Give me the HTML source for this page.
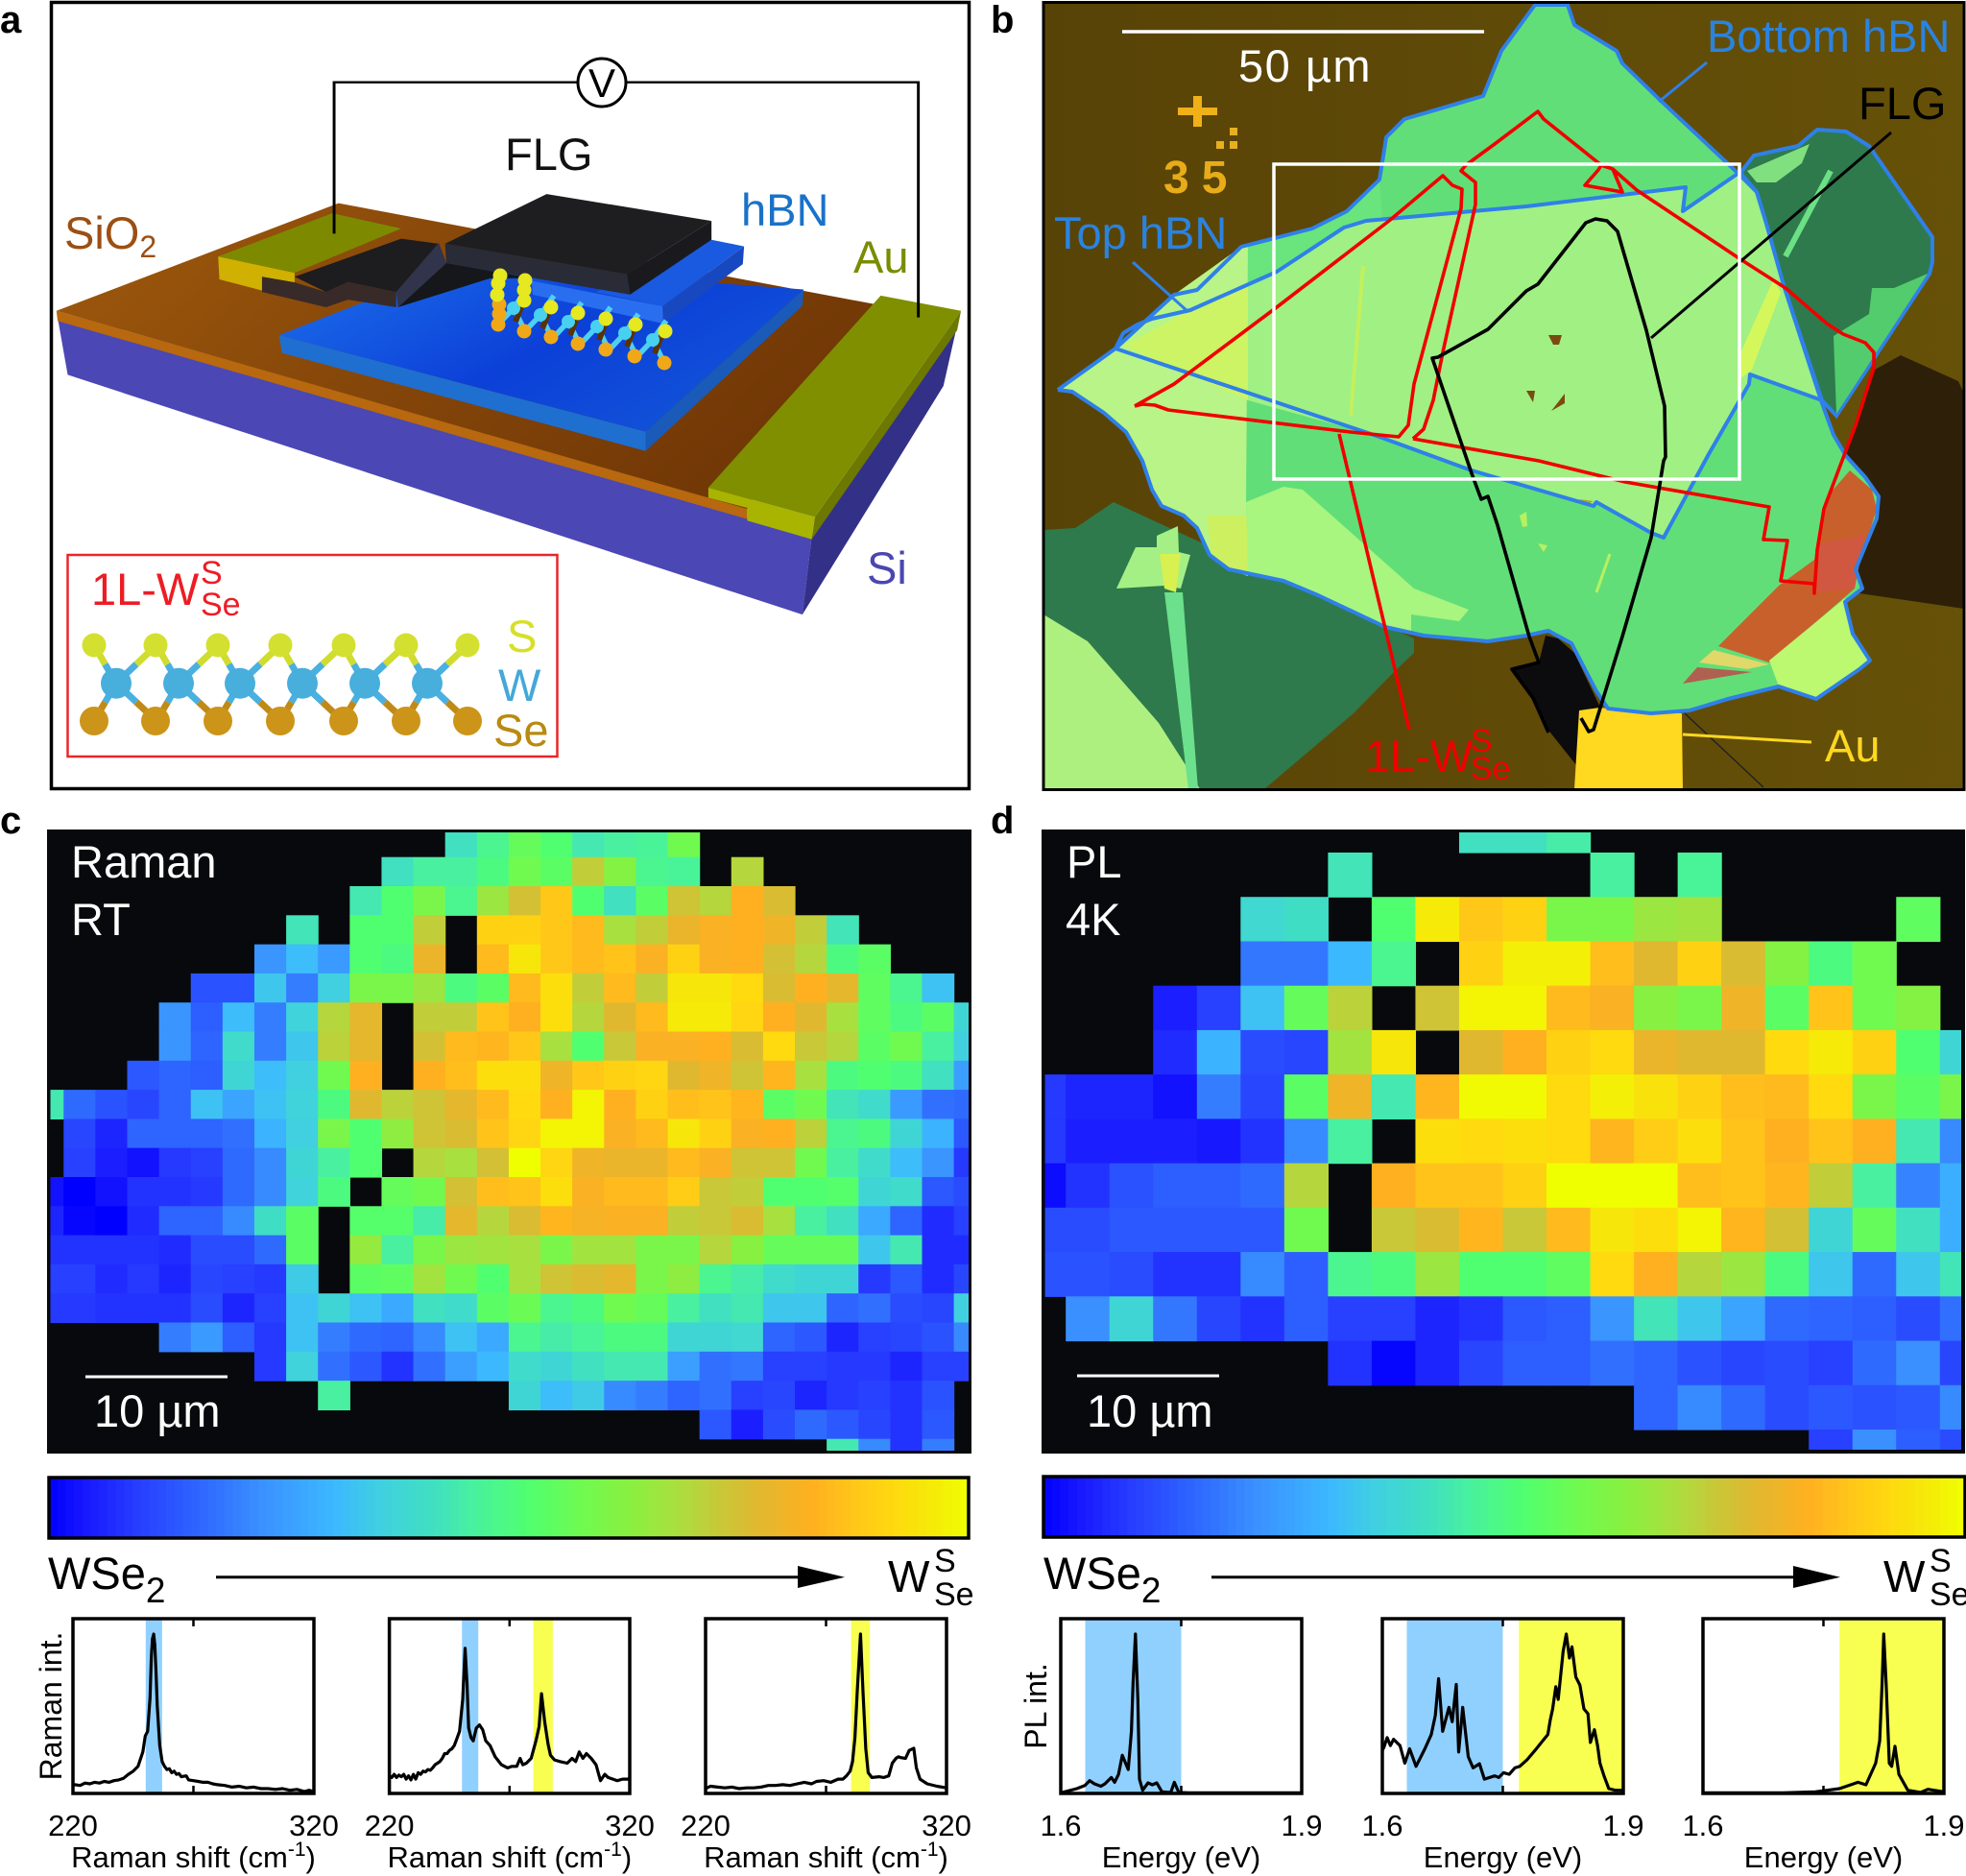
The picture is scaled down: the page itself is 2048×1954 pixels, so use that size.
<!DOCTYPE html>
<html lang="en">
<head>
<meta charset="utf-8">
<title>1L-WSSe device, Raman and PL maps</title>
<style>
html,body{margin:0;padding:0;background:#fff}
svg{display:block}
text{font-family:"Liberation Sans",sans-serif}
</style>
</head>
<body>
<svg id="fig" xmlns="http://www.w3.org/2000/svg" width="2048" height="1954" viewBox="0 0 2048 1954">
<defs>
<linearGradient id="oxideTop" x1="0" y1="0" x2="1" y2="0.4"><stop offset="0" stop-color="#a05a0c"/><stop offset="0.5" stop-color="#86470a"/><stop offset="1" stop-color="#723806"/></linearGradient>
<linearGradient id="hbnTop" x1="0" y1="0.2" x2="1" y2="0.8"><stop offset="0" stop-color="#1a6ae8"/><stop offset="0.5" stop-color="#0c40d8"/><stop offset="1" stop-color="#1256d8"/></linearGradient>
<linearGradient id="photoBg" x1="0" y1="0" x2="1" y2="0"><stop offset="0" stop-color="#584307"/><stop offset="1" stop-color="#665108"/></linearGradient>
<clipPath id="clip-raman"><rect x="52.5" y="867" width="956.5" height="644"/></clipPath>
<clipPath id="clip-pl"><rect x="1088.6" y="867" width="954.4" height="643"/></clipPath>
<clipPath id="clip-photo"><rect x="1087" y="3" width="959" height="819"/></clipPath>
</defs>
<rect x="0" y="0" width="2048" height="1954" fill="#fff"/>

<!-- Panel letters -->
<g font-weight="bold" font-size="40" fill="#000">
<text x="0" y="34">a</text>
<text x="1032" y="34">b</text>
<text x="0" y="868">c</text>
<text x="1032" y="868">d</text>
</g>

<!-- Panel a -->
<g>
<g transform="scale(.653 .529)">
<polygon points="92,626 1295,1056 1280,1210 108,738" fill="#4b47b4"/>
<polygon points="1295,1056 1526,645 1505,760 1280,1210" fill="#333088"/>
<polygon points="90,612 1192,1000 1192,1022 92,632" fill="#b8680e"/>
<polygon points="90,612 540,400 1400,600 1192,1002" fill="url(#oxideTop)"/>
<polygon points="348,505 470,537 470,556 418,545 418,572 350,550" fill="#d0b000"/>
<polygon points="348,505 530,420 640,450 470,537" fill="#7d8a00"/>
<polygon points="1130,960 1300,1018 1295,1062 1192,1025 1192,1000 1130,980" fill="#a8b400"/>
<polygon points="1300,1018 1533,612 1527,650 1295,1062" fill="#6c7800"/>
<polygon points="1130,960 1405,582 1533,612 1300,1018" fill="#7f8f00"/>
<polygon points="445,660 1030,850 1030,888 450,695" fill="#1f6fd0"/>
<polygon points="1030,850 1282,570 1280,602 1030,888" fill="#1a5ab8"/>
<polygon points="445,660 735,520 1282,570 1030,850" fill="url(#hbnTop)"/>
<polygon points="1135,472 1187,485 1057,603 950,575" fill="#1a5ae0"/>
<polygon points="848,553 1057,603 1058,637 850,580" fill="#2a6ef0"/>
<polygon points="1057,603 1187,485 1185,520 1058,637" fill="#1848c0"/>
<polygon points="418,545 470,556 520,575 555,555 632,575 632,605 555,590 520,605 418,575" fill="#382a28"/>
<polygon points="470,545 640,470 700,480 632,575 555,555 520,575" fill="#1d1c1e"/>
<polygon points="635,605 712,518 850,548 782,548" fill="#15171a"/>
<polygon points="632,575 700,478 712,518 635,605" fill="#31344a"/>
<polygon points="710,480 872,382 1135,435 1000,540" fill="#1e1e20"/>
<polygon points="710,480 1000,540 1005,580 712,518" fill="#292b36"/>
<polygon points="1000,540 1135,435 1135,472 1005,580" fill="#1a1a1e"/>
<polyline points="533,460 533,162 920,162" fill="none" stroke="#000" stroke-width="4.5"/>
<polyline points="1000,162 1465,162 1465,625" fill="none" stroke="#000" stroke-width="4.5"/>
</g>
<g id="mini-crystal"></g>
<circle cx="627" cy="86" r="25" fill="#fff" stroke="#000" stroke-width="3"/>
<text x="627" y="101" text-anchor="middle" font-size="42" fill="#000">V</text>
<rect x="53.5" y="2.5" width="956" height="819" fill="none" stroke="#000" stroke-width="3.5"/>
<rect x="70.5" y="578" width="510" height="210" fill="#fff" stroke="#e8262a" stroke-width="2.5"/>
<g id="inset-crystal"></g>
<g font-size="47">
<text x="526" y="177" fill="#111">FLG</text>
<text x="772" y="235" fill="#1a72c8">hBN</text>
<text x="67" y="259" fill="#9c4f12">SiO<tspan font-size="32" dy="9">2</tspan></text>
<text x="889" y="284" fill="#7a8c00">Au</text>
<text x="903" y="608" fill="#4a47b0">Si</text>
<text x="95" y="630" fill="#ed1c24">1L-W</text>
<text x="209" y="608" font-size="34" fill="#ed1c24">S</text>
<text x="209" y="641" font-size="34" fill="#ed1c24">Se</text>
<text x="528" y="679" fill="#d6e028">S</text>
<text x="519" y="730" fill="#44a8d8">W</text>
<text x="514" y="777" fill="#b88a10">Se</text>
</g>
</g>

<!-- Panel b -->
<g>
<g clip-path="url(#clip-photo)">
<rect x="1087" y="3" width="959" height="819" fill="url(#photoBg)"/>
<polygon points="1935,590 1957,540 1957,517 1945,497 1922,475 1945,400 1953,385 1980,370 2040,397 2046,410 2046,634 1937,618" fill="#2e2008"/>
<polygon points="1087,552 1120,550 1160,523 1240,560 1473,665 1473,680 1452,700 1410,743 1317,822 1087,822" fill="#2e7a4c"/>
<polygon points="1087,640 1133,668 1207,753 1237,800 1250,822 1087,822" fill="#aef080"/>
<polygon points="1163,613 1183,570 1205,570 1205,558 1227,548 1228,575 1240,578 1230,613 1213,610" fill="#a4f084"/>
<polygon points="1208,577 1230,577 1225,617 1213,613" fill="#d8f050"/>
<polygon points="1213,617 1232,617 1248,822 1238,822" fill="#6ce08c"/>
<polygon points="1827,162 1873,152 1893,135 1923,137 1947,152 2013,247 2013,273 2010,285 1913,433 1898,417 1858,297 1840,233 1830,200 1813,180" fill="#2e7a4c" stroke="#2f80e8" stroke-width="4"/>
<polygon points="1950,300 1973,300 2008,285 1913,431 1910,350 1947,327" fill="#52cc6c"/>
<polygon points="1820,178 1885,150 1877,170 1850,190 1830,190" fill="#80e080"/>
<line x1="1907" y1="178" x2="1860" y2="267" stroke="#6ce084" stroke-width="6"/>
<polygon points="1102,406 1162,363 1223,307 1247,302 1293,257 1367,238 1403,220 1437,187 1443,150 1444,143 1463,124 1545,100 1564,53 1599,5 1633,5 1640,26 1684,53 1690,66 1728,103 1810,180 1830,200 1840,233 1858,297 1898,420 1910,453 1923,475 1943,497 1957,517 1955,540 1933,593 1940,613 1922,627 1930,660 1948,688 1937,697 1892,728 1853,715 1800,728 1760,740 1720,743 1675,738 1663,720 1637,670 1613,657 1590,662 1550,668 1483,662 1443,653 1373,620 1337,605 1280,593 1260,578 1247,550 1233,537 1210,527 1200,510 1190,480 1173,450 1150,430 1117,408" fill="#62de78"/>
<polygon points="1102,406 1162,363 1223,307 1293,257 1300,257 1298,523 1300,600 1280,593 1260,578 1247,550 1233,537 1210,527 1200,510 1190,480 1173,450 1150,430 1117,408" fill="#b8f488"/>
<polygon points="1300,257 1367,238 1403,220 1437,187 1440,230 1400,240 1330,285 1300,298" fill="#6ae47c"/>
<polygon points="1170,360 1240,323 1300,298 1300,417" fill="#ccf464"/>
<polygon points="1257,537 1303,537 1303,597 1280,593 1262,578" fill="#ccf060"/>
<polygon points="1300,298 1330,283 1400,237 1423,230 1590,215 1756,195 1753,220 1810,181 1830,200 1840,233 1858,297 1898,417 1823,390 1822,400 1780,473 1733,560 1720,555 1663,523 1660,527 1560,500 1533,490 1437,455 1300,417" fill="#a0f084"/>
<polygon points="1848,290 1855,305 1825,385 1812,395 1812,370" fill="#d4f85c"/>
<line x1="1420" y1="277" x2="1407" y2="433" stroke="#c4f05c" stroke-width="4"/>
<polygon points="1298,523 1337,507 1357,510 1473,613 1530,635 1520,647 1470,640 1470,657 1443,653 1373,620 1337,605 1300,598" fill="#a8f580"/>
<polygon points="1927,490 1950,510 1955,530 1933,600 1932,613 1843,690 1790,673 1853,610 1890,583 1897,540 1907,513" fill="#c8602c"/>
<polygon points="1893,567 1943,557 1932,613 1893,617" fill="#d05840"/>
<polygon points="1843,688 1922,623 1930,660 1948,688 1937,697 1892,728 1853,715" fill="#bcf870"/>
<polygon points="1753,712 1768,695 1825,700" fill="#b06050"/>
<polygon points="1770,690 1785,677 1843,692 1820,697" fill="#e0d868"/>
<polygon points="1575,698 1603,690 1610,662 1623,665 1640,680 1667,737 1647,740 1642,797 1615,763 1593,720" fill="#0c0c0e"/>
<polygon points="1645,740 1667,737 1675,738 1752,743 1753,822 1640,822" fill="#ffd820"/>
<line x1="1755" y1="743" x2="1837" y2="820" stroke="#222" stroke-width="1.5"/>
<polygon points="1613,349 1627,349 1624,359 1618,359" fill="#7a4a10"/>
<polygon points="1616,428 1630,410 1630,420" fill="#7a4a10"/>
<polygon points="1590,407 1599,407 1597,419" fill="#7a4a10"/>
<polygon points="1583,537 1590,533 1591,548 1586,549" fill="#b8f060"/>
<polygon points="1602,566 1612,568 1608,575" fill="#b8f060"/>
<line x1="1677" y1="577" x2="1663" y2="617" stroke="#b8f060" stroke-width="3"/>
<polygon points="1645,520 1660,522 1652,526" fill="#b8a020"/>
<polygon points="1243,100 1252,100 1252,112 1268,112 1268,120 1252,120 1252,132 1243,132 1243,120 1227,120 1227,112 1243,112" fill="#f0b018"/>
<rect x="1281" y="133" width="8" height="8" fill="#e8b020"/>
<rect x="1267" y="147" width="8" height="8" fill="#e8b020"/>
<rect x="1281" y="147" width="8" height="8" fill="#e8b020"/>
<g fill="none" stroke="#2f80e8" stroke-width="4" stroke-linejoin="round">
<polyline points="1102,406 1162,363 1223,307 1247,302 1293,257 1367,238 1403,220 1437,187 1443,150 1444,143 1463,124 1545,100 1564,53 1599,5 1633,5 1640,26 1684,53 1690,66 1728,103 1810,180 1830,200 1840,233 1858,297 1898,420 1910,453 1923,475 1943,497 1957,517 1955,540 1933,593 1940,613 1922,627 1930,660 1948,688 1937,697 1892,728 1853,715 1800,728 1760,740 1720,743 1675,738 1663,720 1637,670 1613,657 1590,662 1550,668 1483,662 1443,653 1373,620 1337,605 1280,593 1260,578 1247,550 1233,537 1210,527 1200,510 1190,480 1173,450 1150,430 1117,408 1102,406"/>
<polyline points="1162,363 1170,347 1185,338 1200,332 1240,323 1330,283 1400,237 1423,230 1590,215 1756,195 1753,220 1810,181"/>
<polyline points="1162,363 1437,455 1533,490 1660,527 1663,523 1720,555 1733,560 1780,473 1822,400 1823,390 1898,417"/>
</g>
<g fill="none" stroke="#f00000" stroke-width="3.6" stroke-linejoin="round">
<polyline points="1182,423 1223,400 1330,320 1447,230 1503,183 1513,193 1523,197 1522,217 1473,400 1467,443 1457,455 1407,450 1217,427 1203,422 1190,421 1182,423"/>
<polyline points="1472,457 1483,447 1493,417 1503,367 1537,213 1537,190 1522,178 1527,172 1557,150 1602,116 1608,124 1668,172 1665,177 1651,193 1690,200 1680,176 1668,172 1680,176 1705,198 1813,270 1860,300 1903,337 1920,348 1943,357 1952,367 1952,383 1933,443 1920,477 1900,530 1893,573 1890,618 1890,608 1855,605 1862,563 1837,562 1843,528 1837,527 1693,502 1603,480 1472,457"/>
<line x1="1395" y1="452" x2="1468" y2="760"/>
</g>
<g fill="none" stroke="#000" stroke-width="3.6" stroke-linejoin="round">
<polyline points="1613,763 1597,727 1575,697 1603,690 1593,663 1560,547 1550,517 1543,520 1540,512 1533,493 1492,373 1498,372 1550,343 1590,303 1602,296 1652,232 1662,228 1674,230 1685,241 1715,344 1734,423 1735,476 1733,480 1720,560 1690,663 1660,760 1655,762 1647,748"/>
<line x1="1970" y1="138" x2="1720" y2="352" stroke-width="3"/>
</g>
<line x1="1778" y1="65" x2="1728" y2="106" stroke="#2f80e8" stroke-width="3"/>
<line x1="1180" y1="273" x2="1238" y2="325" stroke="#2f80e8" stroke-width="3"/>
<line x1="1753" y1="765" x2="1887" y2="773" stroke="#ffd820" stroke-width="3"/>
<rect x="1327" y="171" width="485" height="328" fill="none" stroke="#fff" stroke-width="3.5"/>
<line x1="1169" y1="33" x2="1546" y2="33" stroke="#fff" stroke-width="3.5"/>
</g>
<rect x="1087" y="2.5" width="959" height="820" fill="none" stroke="#000" stroke-width="3"/>
<g font-size="47">
<text x="1290" y="85" fill="#fff" letter-spacing="1.5">50 µm</text>
<text x="1212" y="201" fill="#e8ac18" font-size="48" font-weight="bold" letter-spacing="13">35</text>
<text x="1778" y="54" fill="#2b83e0">Bottom hBN</text>
<text x="1098" y="259" fill="#2b83e0">Top hBN</text>
<text x="1936" y="124" fill="#000">FLG</text>
<text x="1422" y="804" fill="#f00000">1L-W</text>
<text x="1532" y="783" font-size="34" fill="#f00000">S</text>
<text x="1532" y="812" font-size="34" fill="#f00000">Se</text>
<text x="1901" y="793" fill="#ffd820">Au</text>
</g>
</g>

<!-- Panels c, d -->
<rect x="49" y="864" width="963" height="650" fill="#08090c"/>
<rect x="1085" y="864" width="962" height="650" fill="#08090c"/>
<g id="raman-map" clip-path="url(#clip-raman)"></g>
<g id="pl-map" clip-path="url(#clip-pl)"></g>
<g font-size="47" fill="#fff">
<text x="74" y="914">Raman</text>
<text x="74" y="974">RT</text>
<line x1="89" y1="1434" x2="237" y2="1434" stroke="#fff" stroke-width="3"/>
<text x="98" y="1486">10 µm</text>
<text x="1111" y="914">PL</text>
<text x="1110" y="974">4K</text>
<line x1="1122" y1="1433" x2="1270" y2="1433" stroke="#fff" stroke-width="3"/>
<text x="1132" y="1486">10 µm</text>
</g>

<g id="colorbars"></g>

<!-- Composition arrows -->
<g fill="#000">
<text x="50" y="1655" font-size="47">WSe<tspan font-size="37" dy="14">2</tspan></text>
<line x1="225" y1="1642.7" x2="835" y2="1642.7" stroke="#000" stroke-width="3"/>
<polygon points="831,1631 880,1642.7 831,1654"/>
<text x="925" y="1658" font-size="46">W</text>
<text x="973" y="1637" font-size="34">S</text>
<text x="973" y="1672" font-size="34">Se</text>
<text x="1087" y="1655" font-size="47">WSe<tspan font-size="37" dy="14">2</tspan></text>
<line x1="1262" y1="1642.7" x2="1872" y2="1642.7" stroke="#000" stroke-width="3"/>
<polygon points="1868,1631 1917,1642.7 1868,1654"/>
<text x="1962" y="1658" font-size="46">W</text>
<text x="2010" y="1637" font-size="34">S</text>
<text x="2010" y="1672" font-size="34">Se</text>
</g>

<g id="spectra"></g>
<text transform="translate(64 1777) rotate(-90)" text-anchor="middle" font-size="32">Raman int.</text>
<text transform="translate(1090 1777) rotate(-90)" text-anchor="middle" font-size="32">PL int.</text>

<script>
const _ = null;
/* Heatmap values: 0 = WSe2 end of the colour scale, 100 = WSSe end, null = no data */
const ramanValues = [
[_,_,_,_,_,_,_,_,_,_,_,_,_,42,48,56,52,44,46,47,58,_,_,_,_,_,_,_,_,_],
[_,_,_,_,_,_,_,_,_,_,_,42,46,46,50,58,54,72,62,48,47,_,70,_,_,_,_,_,_,_],
[_,_,_,_,_,_,_,_,_,_,44,52,60,48,66,75,88,52,42,54,74,70,83,76,_,_,_,_,_,_],
[_,_,_,_,_,_,_,_,43,_,52,52,72,_,90,90,88,85,68,72,79,82,83,80,72,43,_,_,_,_],
[_,_,_,_,_,_,_,24,32,25,52,50,79,_,85,95,88,85,87,82,90,82,83,75,70,50,54,_,_,_],
[_,_,_,_,_,13,13,34,20,36,60,60,66,50,54,85,93,72,85,72,95,95,92,76,83,78,55,48,33,_],
[_,_,_,_,24,15,32,20,37,70,78,_,72,72,87,83,93,70,77,85,96,96,91,83,77,68,55,50,54,38],
[_,_,_,_,24,16,40,20,34,71,78,_,75,85,84,88,68,52,73,82,82,83,76,92,73,70,54,58,46,36],
[_,_,_,14,16,15,38,32,36,58,83,_,83,86,93,93,80,88,90,91,77,80,74,84,68,50,52,50,42,26],
[44,17,13,11,16,33,27,33,37,50,77,71,74,78,85,92,83,98,83,90,86,87,84,54,58,43,40,25,18,17],
[_,11,6,16,16,16,18,30,36,60,52,64,74,76,87,91,98,98,82,85,95,90,82,83,71,48,50,38,30,14],
[_,10,5,3,9,10,17,22,38,46,52,_,70,68,75,100,91,80,79,79,85,82,74,74,58,46,40,32,24,9],
[3,0,3,8,8,9,17,22,37,50,_,56,58,75,86,87,93,82,85,85,89,73,72,52,52,53,38,40,14,12],
[6,1,0,7,16,16,22,41,54,_,53,53,45,78,70,76,84,81,82,82,72,73,76,68,46,42,28,16,7,10],
[8,8,8,8,7,12,12,17,54,_,65,46,60,66,67,68,60,67,67,60,60,70,63,56,56,56,34,44,7,7],
[10,10,7,9,6,11,10,9,35,_,54,55,67,58,52,68,74,76,78,60,64,48,45,40,38,38,9,14,7,11],
[9,9,8,8,8,12,6,10,33,38,33,28,42,40,54,57,48,50,58,56,46,42,44,34,34,16,18,12,11,36],
[_,_,_,_,20,25,15,9,33,20,17,16,22,33,28,48,45,47,50,50,38,38,39,16,14,6,10,11,13,22],
[_,_,_,_,_,_,_,9,37,18,14,8,18,26,31,40,38,42,44,44,26,18,19,10,10,9,9,6,10,10],
[_,_,_,_,_,_,_,_,_,46,_,_,_,_,_,38,32,35,22,20,16,18,10,11,6,9,10,8,13,_],
[_,_,_,_,_,_,_,_,_,_,_,_,_,_,_,_,_,_,_,_,_,14,5,12,17,14,11,8,14,_],
[_,_,_,_,_,_,_,_,_,_,_,_,_,_,_,_,_,_,_,_,_,_,_,_,_,44,22,8,20,_]
];
const plValues = [
[_,_,_,_,_,_,_,_,_,_,42,42,45,_,_,_,_,_,_,_,_,_],
[_,_,_,_,_,_,_,43,_,_,_,_,_,46,_,47,_,_,_,_,_,_],
[_,_,_,_,_,39,41,_,52,96,88,90,60,60,66,67,_,_,_,_,55,_],
[_,_,_,_,_,19,19,31,48,_,90,97,97,86,77,90,76,62,50,58,_,_],
[_,_,_,5,10,33,56,71,_,74,98,98,85,82,63,60,80,54,87,58,62,_],
[_,_,_,7,30,12,11,67,95,_,77,83,90,92,79,77,77,92,96,90,52,38],
[9,6,6,3,20,11,54,80,44,84,99,99,92,97,94,90,86,85,92,60,54,60],
[9,5,5,5,4,8,22,46,_,93,92,93,92,84,89,93,87,83,87,83,44,22],
[2,8,13,15,15,17,70,_,83,87,87,90,100,100,100,86,87,84,72,46,21,29],
[12,12,14,14,14,14,58,_,73,76,84,73,85,95,93,98,84,75,38,56,42,29],
[13,13,12,8,8,22,15,48,50,66,52,52,55,92,83,70,66,50,34,17,34,43],
[_,23,38,19,11,8,15,10,10,6,8,14,15,24,43,34,27,17,16,15,12,18],
[_,_,_,_,_,_,_,8,1,6,11,15,15,18,16,13,11,12,10,17,23,11],
[_,_,_,_,_,_,_,_,_,_,_,_,_,_,16,22,17,12,14,13,14,22],
[_,_,_,_,_,_,_,_,_,_,_,_,_,_,_,_,_,_,10,23,15,12]
];

/* Spectra */
const ramanAShift = [220,221,223,225,227,229,231,233,235,237,239,241,243,245,247,249,250,251,252,252.5,253,253.5,254,254.5,255,256,257,258,259,260,261,262,263,264,265,267,268,270,272,274,276,278,280,283,286,289,292,295,298,301,304,307,310,313,316,318,320];
const ramanAInt = [.05,.055,.05,.065,.06,.07,.065,.075,.07,.08,.085,.095,.12,.14,.17,.26,.36,.39,.6,.85,.97,1,.93,.75,.55,.3,.2,.17,.15,.155,.13,.14,.12,.125,.105,.11,.085,.08,.075,.07,.07,.06,.055,.05,.04,.045,.035,.04,.03,.03,.025,.03,.02,.025,.012,.02,.01];
const ramanBShift = [220,221,222,223,224,225,226,227,228,229,230,231,232,233,234,235,236,237,238,239,240,241,242,243,244,245,246,247,248,249.2,250.5,251.5,252.3,253,254,254.9,256.2,257.5,258.8,260.1,261.9,264,266.6,269.2,271,273,274.4,275.5,277,279,281,282.3,283.3,284.6,286,287,288.7,291,294,296,297.5,299,300.5,302,304,306,307.8,309.6,311,313,314.8,317,319.5,320];
const ramanBInt = [.11,.1,.12,.1,.115,.105,.12,.09,.11,.085,.12,.09,.13,.12,.14,.135,.15,.145,.16,.18,.19,.2,.22,.25,.25,.27,.28,.3,.34,.39,.59,.91,.69,.41,.35,.33,.41,.43,.4,.33,.3,.23,.18,.16,.17,.17,.22,.18,.19,.22,.33,.42,.626,.45,.31,.24,.21,.2,.19,.22,.2,.26,.22,.25,.22,.18,.08,.12,.1,.09,.08,.09,.09,.1];
const ramanCShift = [220,222,225,228,231,234,237,240,243,246,249,252,255,258,261,264,266,269,272,275,277,278.5,280,281,282,283,284.3,285.3,286.5,287.5,289,292,294,296,297.5,299,300,301,303,304.5,306.4,307.5,309,312,316,320];
const ramanCInt = [.03,.045,.04,.035,.04,.03,.035,.035,.04,.05,.05,.055,.05,.06,.07,.06,.075,.08,.07,.09,.09,.11,.14,.2,.35,.65,1,.65,.28,.13,.1,.105,.1,.11,.19,.22,.23,.225,.22,.27,.284,.16,.09,.06,.045,.035];
const plAEnergy = [1.6,1.605,1.62,1.63,1.636,1.642,1.65,1.655,1.663,1.667,1.672,1.6766,1.684,1.688,1.69,1.693,1.696,1.698,1.702,1.7086,1.714,1.7195,1.726,1.737,1.7414,1.747,1.76,1.9];
const plAInt = [.003,.01,.03,.05,.08,.06,.045,.06,.1,.07,.12,.24,.15,.39,.69,1,.59,.09,.02,.066,.054,.066,.01,.006,.07,.006,.004,.004];
const plBEnergy = [1.6,1.602,1.606,1.61,1.614,1.622,1.628,1.634,1.642,1.653,1.661,1.666,1.67,1.675,1.683,1.687,1.692,1.695,1.70,1.707,1.713,1.721,1.727,1.74,1.745,1.751,1.758,1.765,1.771,1.78,1.79,1.798,1.806,1.809,1.812,1.816,1.819,1.825,1.829,1.833,1.836,1.841,1.846,1.851,1.856,1.859,1.864,1.868,1.871,1.876,1.882,1.89,1.898,1.9];
const plBInt = [.27,.29,.35,.3,.34,.3,.19,.28,.17,.28,.37,.49,.72,.39,.54,.45,.684,.26,.54,.23,.16,.186,.09,.11,.1,.13,.12,.16,.17,.21,.27,.32,.37,.46,.53,.67,.59,.89,1,.85,.92,.73,.68,.53,.5,.32,.4,.3,.19,.11,.03,.02,.02,.02];
const plCEnergy = [1.6,1.7,1.74,1.77,1.793,1.803,1.815,1.82,1.823,1.825,1.828,1.832,1.835,1.839,1.844,1.855,1.871,1.88,1.9];
const plCInt = [.004,.004,.01,.03,.07,.054,.19,.33,.69,1,.69,.19,.17,.296,.12,.02,.006,.026,.01];

const ramanBandA = [[250.2,257,'#90d0ff']];
const ramanBandB = [[250.2,257,'#90d0ff'],[279.9,288,'#f8ff50']];
const ramanBandC = [[280.4,288.2,'#f8ff50']];
const plBandA = [[1.6305,1.75,'#90d0ff']];
const plBandB = [[1.6305,1.75,'#90d0ff'],[1.77,1.9,'#f8ff50']];
const plBandC = [[1.77,1.9,'#f8ff50']];

const ramanTickLabels = ['220','320'];
const plTickLabels = ['1.6','1.9'];
const ramanDomain = [220,320];
const plDomain = [1.6,1.9];

const NS = 'http://www.w3.org/2000/svg';
function mk(tag, attrs, parent){
  const el = document.createElementNS(NS, tag);
  for (const k in attrs) el.setAttribute(k, attrs[k]);
  parent.appendChild(el);
  return el;
}
const stops = [[0,[0,0,255]],[.04,[24,24,255]],[.1,[40,64,255]],[.17,[47,106,255]],[.23,[58,144,255]],[.31,[60,184,255]],[.36,[64,208,224]],[.42,[64,224,192]],[.46,[72,240,160]],[.52,[80,255,112]],[.58,[112,250,80]],[.63,[136,240,64]],[.68,[168,224,64]],[.73,[200,200,56]],[.77,[224,184,48]],[.83,[255,176,32]],[.88,[255,200,24]],[.915,[255,216,16]],[.96,[245,234,8]],[1,[240,255,0]]];
function colorOf(t){
  t = Math.max(0, Math.min(1, t));
  for (let i = 1; i < stops.length; i++){
    if (t <= stops[i][0]){
      const a = stops[i-1], b = stops[i], f = (t-a[0])/(b[0]-a[0]);
      return 'rgb(' + a[1].map((v,j)=>Math.round(v+(b[1][j]-v)*f)).join(',') + ')';
    }
  }
  return 'rgb(240,255,0)';
}

/* Heatmaps */
function drawMap(target, values, xAxis, yAxis){
  values.forEach(function(row, r){
    row.forEach(function(v, c){
      if (v === null) return;
      const cell = mk('rect', {x:xAxis.at(c), y:yAxis.at(r), width:xAxis.step+.6, height:yAxis.step+.6, fill:colorOf(v/100)}, target);
      
      
    });
  });
}
drawMap(document.getElementById('raman-map'), ramanValues,
  {at:c=>66.25+(c-1)*33.12, step:33.12},
  {at:r=>892.7+(r-1)*30.3, step:30.3});
drawMap(document.getElementById('pl-map'), plValues,
  {at:c=>1110.2+(c-1)*45.53, step:45.53},
  {at:r=>888+(r-1)*46.23, step:46.23});

/* Colour bars */
const cbHost = document.getElementById('colorbars');
[[51,1009,1539,1602],[1087,2047,1538,1601]].forEach(function(b){
  const n = 110, w = (b[1]-b[0])/n;
  for (let i = 0; i < n; i++){
    const seg = mk('rect', {x:b[0]+i*w, y:b[2], width:w+.5, height:b[3]-b[2], fill:colorOf((i+.5)/n)}, cbHost);
    
    
  }
  const fr = mk('rect', {x:b[0], y:b[2], width:b[1]-b[0], height:b[3]-b[2], fill:'none', stroke:'#000', 'stroke-width':3.5}, cbHost);
  
  
});

/* Spectra */
const specHost = document.getElementById('spectra');
const top0 = 1686, bot0 = 1868;
function yScale(i){ return bot0 - i * (bot0 - 1702); }
function drawSpectrum(x0, x1, domain, xs, ys, bands, tickLabels, title, sup){
  const xScale = v => x0 + (v-domain[0])/(domain[1]-domain[0])*(x1-x0);
  const g = mk('g', {}, specHost);
  
  
  bands.forEach(function(b){
    const r = mk('rect', {x:xScale(b[0]), y:top0, width:xScale(b[1])-xScale(b[0]), height:bot0-top0, fill:b[2]}, g);
    
    
  });
  const pts = xs.map((v,i)=>xScale(v).toFixed(1)+','+yScale(ys[i]).toFixed(1)).join(' ');
  const line = mk('polyline', {points:pts, fill:'none', stroke:'#000', 'stroke-width':3.2, 'stroke-linejoin':'round'}, g);
  
  
  const fr = mk('rect', {x:x0, y:top0, width:x1-x0, height:bot0-top0, fill:'none', stroke:'#000', 'stroke-width':3.5}, g);
  
  
  const mid = (x0+x1)/2;
  const t1 = mk('line', {x1:mid, x2:mid, y1:top0, y2:top0+8, stroke:'#000', 'stroke-width':2.5}, g);
  
  
  const t2 = mk('line', {x1:mid, x2:mid, y1:bot0, y2:bot0-8, stroke:'#000', 'stroke-width':2.5}, g);
  
  
  tickLabels.forEach(function(lab, i){
    const t = mk('text', {x:i?x1:x0, y:1912, 'text-anchor':'middle', 'font-size':31}, g);
    
    
    t.textContent = lab;
  });
  const tt = mk('text', {x:mid, y:1945, 'text-anchor':'middle', 'font-size':31}, g);
  
  
  tt.textContent = title;
  if (sup){
    const s = mk('tspan', {'font-size':21, dy:-12}, tt);
    s.textContent = sup;
    const e = mk('tspan', {dy:12}, tt);
    e.textContent = ')';
  }
}
drawSpectrum(76,327,ramanDomain,ramanAShift,ramanAInt,ramanBandA,ramanTickLabels,'Raman shift (cm','-1');
drawSpectrum(405.6,656,ramanDomain,ramanBShift,ramanBInt,ramanBandB,ramanTickLabels,'Raman shift (cm','-1');
drawSpectrum(735,986,ramanDomain,ramanCShift,ramanCInt,ramanBandC,ramanTickLabels,'Raman shift (cm','-1');
drawSpectrum(1105,1356,plDomain,plAEnergy,plAInt,plBandA,plTickLabels,'Energy (eV)');
drawSpectrum(1440,1691,plDomain,plBEnergy,plBInt,plBandB,plTickLabels,'Energy (eV)');
drawSpectrum(1774,2025,plDomain,plCEnergy,plCInt,plBandC,plTickLabels,'Energy (eV)');

/* Crystal drawings in panel a */
const inset = document.getElementById('inset-crystal');
const wX = [121,186,250,315,380,445];
const bondColors = {s:'#cfdc30', w:'#4ab0e0', se:'#c08a18'};
function atom(host, x, y, r, fill, name){
  const a = mk('circle', {cx:x, cy:y, r:r, fill:fill}, host);
  
  
}
function bond(host, x1, y1, x2, y2, col, w){
  const b = mk('line', {x1:x1, y1:y1, x2:x2, y2:y2, stroke:col, 'stroke-width':w}, host);
  
  
}
wX.forEach(function(x){
  [[-23,672,'s'],[42,672,'s'],[-23,751,'se'],[42,751,'se']].forEach(function(p){
    const tx = x+p[0], ty = p[1], mx = (x+tx)/2, my = (711.7+ty)/2;
    bond(inset, x, 711.7, mx, my, bondColors.w, 7);
    bond(inset, mx, my, tx, ty, bondColors[p[2]], 7);
  });
});
[98,162,227,292,358,423,487].forEach(function(x){
  atom(inset, x, 672, 12.5, '#d4e030', 'sulfur-atom');
  atom(inset, x, 751, 15, '#cc9418', 'selenium-atom');
});
wX.forEach(function(x){ atom(inset, x, 711.7, 16, '#48aedc', 'tungsten-atom'); });

const mini = document.getElementById('mini-crystal');
const miniX = [535,563,592,622,651,680];
const miniY = [321,328,335,340,347,354];
miniX.forEach(function(x, i){
  bond(mini, x, miniY[i], x-16, miniY[i]+17, '#50d0f0', 5.5);
  bond(mini, x, miniY[i], x+12, miniY[i]+24, '#50d0f0', 5.5);
  bond(mini, x, miniY[i], x+14, miniY[i]-20, '#50d0f0', 5.5);
  bond(mini, x+12, miniY[i]-12, x+2, miniY[i]+14, '#5a3208', 6);
});
[[519,338],[546,345],[574,351],[602,358],[631,364],[661,371],[692,378],[520,327],[520,317]].forEach(function(p){
  atom(mini, p[0], p[1], 7.5, '#f0a818', 'mini-selenium');
});
miniX.forEach(function(x, i){ atom(mini, x, miniY[i], 7, '#48d0f0', 'mini-tungsten'); });
[[574,320],[602,326],[631,332],[662,338],[693,345],[521,287],[519,295],[518,307],[547,292],[546,302],[546,313]].forEach(function(p){
  atom(mini, p[0], p[1], 7.5, '#e6e820', 'mini-sulfur');
});
</script>
</svg>
</body>
</html>
